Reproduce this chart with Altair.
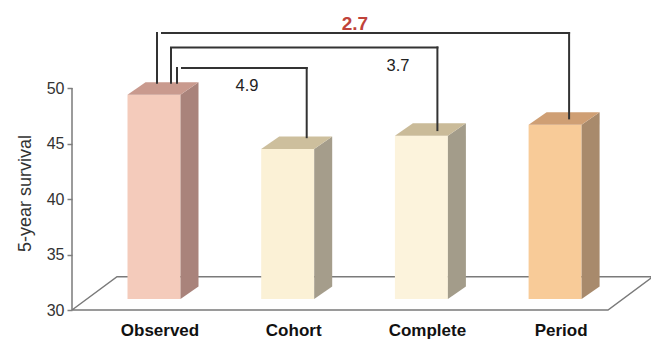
import altair as alt
import pandas as pd

# ---------------- data ----------------
categories = ["Observed", "Cohort", "Complete", "Period"]
survival = [49.4, 44.5, 45.7, 46.7]
front_colors = ["#f4cbbb", "#fbf1d6", "#fcf3dc", "#f8cb98"]
top_colors = ["#c99a8e", "#cdbf9d", "#cabb99", "#cf9f74"]
side_colors = ["#a9837b", "#a59d8b", "#a39c8a", "#a88a6c"]

diff_targets = ["Cohort", "Complete", "Period"]
diff_labels = ["4.9", "3.7", "2.7"]
diff_emph = [False, False, True]

y_ticks = [30, 35, 40, 45, 50]

# ---------------- layout / style (not data) ----------------
W, H = 579, 310
PX_X = 133.7          # pixels per category step
PX_Y = 11.1           # pixels per survival unit
HALF = 26.5 / PX_X    # half width of bar front face
DX = 18 / PX_X        # 3d depth, horizontal
DY = 12.5 / PX_Y      # 3d depth, vertical
BASE = 31.0           # bar front bottom
X0 = -82 / PX_X
x_scale = alt.Scale(domain=[X0, X0 + W / PX_X], nice=False, zero=False)
y_scale = alt.Scale(domain=[30, 30 + H / PX_Y], nice=False, zero=False)
FONT = "Liberation Sans"

bracket_level = [51.8, 53.65, 54.95]
left_off_px = [23, 17, 3]
hstart_off_px = [28, 19, 8]
right_off_px = [19, 16, 14]
end_frac = [0.95, 0.45, 0.5]
label_x = [0.696, 1.825, 1.503]
label_y = [50.18, 51.98, 55.75]

y_axis = alt.Axis(values=y_ticks, domain=False, grid=False, ticks=True, tickSize=5,
                  tickColor="#808080", tickWidth=1.5, labelFontSize=16, labelFont=FONT,
                  labelColor="#333333", labelPadding=3, title="5-year survival",
                  titleFont=FONT, titleFontSize=18, titleFontWeight="normal",
                  titleColor="#333333", titleAngle=270, titleAlign="center",
                  titleBaseline="middle", titleX=-47, titleY=193)


def X(f):
    return alt.X(f, type="quantitative", scale=x_scale, axis=None)


def Y(f):
    return alt.Y(f, type="quantitative", scale=y_scale, axis=y_axis)


n = len(categories)
side_rows, top_rows, bar_rows = [], [], []
for i in range(n):
    cat, val = categories[i], survival[i]
    xl, xr = i - HALF, i + HALF
    bar_rows.append({"cat": cat, "val": val, "front": front_colors[i], "xl": xl, "xr": xr,
                     "base": BASE, "lx": i + 6 / PX_X})
    sc, tc = side_colors[i], top_colors[i]
    side_rows.append({"cat": cat, "c": sc, "x": xr, "lo": BASE, "hi": val})
    side_rows.append({"cat": cat, "c": sc, "x": xr + DX, "lo": BASE + DY, "hi": val + DY})
    top_rows.append({"cat": cat, "c": tc, "x": xl, "lo": val, "hi": val})
    top_rows.append({"cat": cat, "c": tc, "x": xl + DX, "lo": val, "hi": val + DY})
    top_rows.append({"cat": cat, "c": tc, "x": xr, "lo": val, "hi": val + DY})
    top_rows.append({"cat": cat, "c": tc, "x": xr + DX, "lo": val + DY, "hi": val + DY})
bars = pd.DataFrame(bar_rows)
side_df = pd.DataFrame(side_rows)
top_df = pd.DataFrame(top_rows)

# floor parallelogram
FDX = 45 / PX_X
fr = X0 + 536 / PX_X
floor_df = pd.DataFrame({
    "x": [X0, fr, fr + FDX, X0 + FDX, X0],
    "y": [30, 30, 33, 33, 30],
    "o": [0, 1, 2, 3, 4],
})
axis_df = pd.DataFrame({"y0": [y_ticks[0]], "y1": [y_ticks[-1]]})

seg_rows, lab_rows = [], []
obs_top = survival[0] + DY * 0.95
for k, tgt in enumerate(diff_targets):
    j = categories.index(tgt)
    lev = bracket_level[k]
    lx = left_off_px[k] / PX_X
    hx = hstart_off_px[k] / PX_X
    rx = j + right_off_px[k] / PX_X
    seg_rows.append({"x": lx, "x2": lx, "y": obs_top, "y2": lev})
    seg_rows.append({"x": hx, "x2": rx, "y": lev, "y2": lev})
    seg_rows.append({"x": rx, "x2": rx, "y": lev, "y2": survival[j] + DY * end_frac[k]})
    lab_rows.append({"x": label_x[k], "y": label_y[k], "t": diff_labels[k], "emph": diff_emph[k]})
seg_df = pd.DataFrame(seg_rows)
lab_df = pd.DataFrame(lab_rows)

floor = alt.Chart(floor_df).mark_line(color="#7a7a7a", strokeWidth=1.5).encode(
    x=X("x"), y=Y("y"), order="o:Q")
axis_line = alt.Chart(axis_df).mark_rule(color="#7a7a7a", strokeWidth=1.5).encode(
    x=alt.value(0), y=Y("y0"), y2="y1")
front = alt.Chart(bars).mark_rect().encode(
    x=X("xl"), x2="xr", y=Y("base"), y2="val", color=alt.Color("front:N", scale=None))
side = alt.Chart(side_df).mark_area(opacity=1).encode(
    x=X("x"), y=Y("lo"), y2="hi", color=alt.Color("c:N", scale=None), detail="cat:N")
top = alt.Chart(top_df).mark_area(opacity=1).encode(
    x=X("x"), y=Y("lo"), y2="hi", color=alt.Color("c:N", scale=None), detail="cat:N")
segs = alt.Chart(seg_df).mark_rule(color="#333333", strokeWidth=2, strokeCap="square").encode(
    x=X("x"), x2="x2", y=Y("y"), y2="y2")
lab_norm = alt.Chart(lab_df).transform_filter("!datum.emph").mark_text(
    font=FONT, fontSize=16.5, color="#222222", baseline="middle", align="center").encode(
    x=X("x"), y=Y("y"), text="t:N")
lab_emph = alt.Chart(lab_df).transform_filter("datum.emph").mark_text(
    font=FONT, fontSize=19, fontWeight="bold", color="#c0433a", baseline="middle",
    align="center").encode(x=X("x"), y=Y("y"), text="t:N")
xlabels = alt.Chart(bars).mark_text(
    font=FONT, fontSize=17, fontWeight="bold", color="#111111", baseline="middle",
    align="center").encode(x=X("lx"), y=alt.value(331), text="cat:N")

chart = alt.layer(floor, axis_line, front, side, top, segs, lab_norm, lab_emph, xlabels).properties(
    width=W, height=H,
    autosize=alt.AutoSizeParams(type="none"),
    padding={"left": 72, "top": 0, "right": 0, "bottom": 30},
    background="white",
).configure_view(stroke=None)

chart.save("out.html", embed_options={"renderer": "svg", "actions": False})
